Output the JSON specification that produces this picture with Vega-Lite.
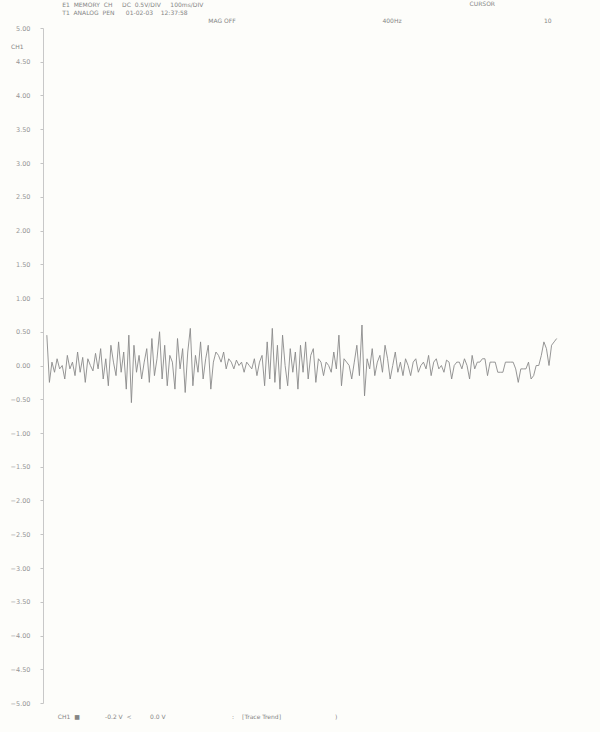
{
  "$schema": "https://vega.github.io/schema/vega-lite/v6.json",
  "autosize": {"type": "none"},
  "width": 547,
  "height": 675,
  "padding": {"left": 43, "top": 28, "right": 10, "bottom": 29},
  "background": "#fdfdfa",
  "config": {"view": {"stroke": null}, "font": "DejaVu Sans",
    "axisY": {"values": [5,4.5,4,3.5,3,2.5,2,1.5,1,0.5,0,-0.5,-1,-1.5,-2,-2.5,-3,-3.5,-4,-4.5,-5],
      "format": ".2f", "title": null, "grid": false, "labelFontSize": 6.5, "labelColor": "#969696",
      "labelOverlap": false, "labelBound": false,
      "tickColor": "#c4c4c4", "tickSize": 3, "labelPadding": 10, "domainColor": "#c8c8c8", "domainWidth": 1}},
  "datasets": {
    "trace": [
      {"i":0,"v":0.45},{"i":1,"v":-0.25},{"i":2,"v":0.05},{"i":3,"v":-0.1},{"i":4,"v":0.1},{"i":5,"v":-0.05},{"i":6,"v":0.0},{"i":7,"v":-0.2},{"i":8,"v":0.15},{"i":9,"v":-0.05},
      {"i":10,"v":0.05},{"i":11,"v":-0.15},{"i":12,"v":0.2},{"i":13,"v":-0.1},{"i":14,"v":0.12},{"i":15,"v":-0.25},{"i":16,"v":0.1},{"i":17,"v":0.0},{"i":18,"v":-0.08},{"i":19,"v":0.18},
      {"i":20,"v":-0.05},{"i":21,"v":0.25},{"i":22,"v":-0.2},{"i":23,"v":0.1},{"i":24,"v":-0.3},{"i":25,"v":0.3},{"i":26,"v":0.05},{"i":27,"v":-0.15},{"i":28,"v":0.35},{"i":29,"v":-0.1},
      {"i":30,"v":0.2},{"i":31,"v":-0.35},{"i":32,"v":0.45},{"i":33,"v":-0.55},{"i":34,"v":0.3},{"i":35,"v":-0.1},{"i":36,"v":0.15},{"i":37,"v":-0.2},{"i":38,"v":0.05},{"i":39,"v":0.25},
      {"i":40,"v":-0.25},{"i":41,"v":0.4},{"i":42,"v":-0.15},{"i":43,"v":0.1},{"i":44,"v":0.5},{"i":45,"v":-0.2},{"i":46,"v":0.3},{"i":47,"v":-0.3},{"i":48,"v":0.15},{"i":49,"v":0.05},
      {"i":50,"v":-0.35},{"i":51,"v":0.4},{"i":52,"v":-0.05},{"i":53,"v":0.25},{"i":54,"v":-0.4},{"i":55,"v":0.2},{"i":56,"v":0.55},{"i":57,"v":-0.3},{"i":58,"v":0.15},{"i":59,"v":-0.1},
      {"i":60,"v":0.35},{"i":61,"v":-0.2},{"i":62,"v":0.1},{"i":63,"v":0.3},{"i":64,"v":-0.35},{"i":65,"v":0.05},{"i":66,"v":0.2},{"i":67,"v":0.15},{"i":68,"v":0.05},{"i":69,"v":0.2},
      {"i":70,"v":-0.05},{"i":71,"v":0.1},{"i":72,"v":0.05},{"i":73,"v":-0.05},{"i":74,"v":0.08},{"i":75,"v":0.0},{"i":76,"v":0.05},{"i":77,"v":-0.1},{"i":78,"v":0.05},{"i":79,"v":0.0},
      {"i":80,"v":-0.05},{"i":81,"v":0.1},{"i":82,"v":-0.15},{"i":83,"v":0.05},{"i":84,"v":0.15},{"i":85,"v":-0.3},{"i":86,"v":0.35},{"i":87,"v":-0.2},{"i":88,"v":0.55},{"i":89,"v":-0.25},
      {"i":90,"v":0.3},{"i":91,"v":-0.35},{"i":92,"v":0.45},{"i":93,"v":0.0},{"i":94,"v":-0.3},{"i":95,"v":0.25},{"i":96,"v":-0.1},{"i":97,"v":0.2},{"i":98,"v":-0.35},{"i":99,"v":0.3},
      {"i":100,"v":-0.1},{"i":101,"v":0.35},{"i":102,"v":-0.2},{"i":103,"v":0.15},{"i":104,"v":0.25},{"i":105,"v":-0.25},{"i":106,"v":0.1},{"i":107,"v":0.05},{"i":108,"v":-0.15},{"i":109,"v":0.05},
      {"i":110,"v":0.0},{"i":111,"v":-0.1},{"i":112,"v":0.2},{"i":113,"v":-0.05},{"i":114,"v":0.45},{"i":115,"v":-0.3},{"i":116,"v":0.1},{"i":117,"v":0.05},{"i":118,"v":0.0},{"i":119,"v":-0.2},
      {"i":120,"v":0.05},{"i":121,"v":0.3},{"i":122,"v":-0.15},{"i":123,"v":0.6},{"i":124,"v":-0.45},{"i":125,"v":0.1},{"i":126,"v":-0.05},{"i":127,"v":0.25},{"i":128,"v":-0.15},{"i":129,"v":0.05},
      {"i":130,"v":0.15},{"i":131,"v":-0.1},{"i":132,"v":0.3},{"i":133,"v":0.1},{"i":134,"v":-0.2},{"i":135,"v":0.0},{"i":136,"v":0.2},{"i":137,"v":-0.1},{"i":138,"v":0.05},{"i":139,"v":-0.15},
      {"i":140,"v":0.1},{"i":141,"v":0.0},{"i":142,"v":-0.15},{"i":143,"v":0.05},{"i":144,"v":0.1},{"i":145,"v":-0.1},{"i":146,"v":0.0},{"i":147,"v":0.05},{"i":148,"v":-0.05},{"i":149,"v":0.15},
      {"i":150,"v":-0.15},{"i":151,"v":0.05},{"i":152,"v":0.1},{"i":153,"v":-0.05},{"i":154,"v":0.0},{"i":155,"v":-0.1},{"i":156,"v":0.08},{"i":157,"v":0.05},{"i":158,"v":-0.2},{"i":159,"v":0.0},
      {"i":160,"v":0.05},{"i":161,"v":0.05},{"i":162,"v":-0.05},{"i":163,"v":0.1},{"i":164,"v":0.0},{"i":165,"v":-0.2},{"i":166,"v":0.15},{"i":167,"v":-0.05},{"i":168,"v":0.05},{"i":169,"v":0.05},
      {"i":170,"v":0.1},{"i":171,"v":0.1},{"i":172,"v":-0.15},{"i":173,"v":0.05},{"i":174,"v":0.05},{"i":175,"v":0.05},{"i":176,"v":-0.1},{"i":177,"v":-0.1},{"i":178,"v":-0.1},{"i":179,"v":0.05},
      {"i":180,"v":0.05},{"i":181,"v":0.05},{"i":182,"v":0.05},{"i":183,"v":-0.05},{"i":184,"v":-0.25},{"i":185,"v":-0.05},{"i":186,"v":-0.05},{"i":187,"v":-0.05},{"i":188,"v":0.05},{"i":189,"v":-0.2},
      {"i":190,"v":-0.15},{"i":191,"v":0.0},{"i":192,"v":0.0},{"i":193,"v":0.15},{"i":194,"v":0.35},{"i":195,"v":0.25},{"i":196,"v":0.0},{"i":197,"v":0.3},{"i":198,"v":0.35},{"i":199,"v":0.4}
    ],
    "labels": [
      {"x": 6, "y": 5.335, "t": "E1\u00a0\u00a0MEMORY\u00a0\u00a0CH\u00a0\u00a0\u00a0\u00a0\u00a0DC\u00a0\u00a00.5V/DIV\u00a0\u00a0\u00a0\u00a0\u00a0100ms/DIV"},
      {"x": 6, "y": 5.225, "t": "T1\u00a0\u00a0ANALOG\u00a0\u00a0PEN\u00a0\u00a0\u00a0\u00a0\u00a0\u00a001-02-03\u00a0\u00a0\u00a0\u00a012:37:58"},
      {"x": 63, "y": 5.11, "t": "MAG OFF"},
      {"x": 131, "y": 5.11, "t": "400Hz"},
      {"x": 165, "y": 5.36, "t": "CURSOR"},
      {"x": 194, "y": 5.11, "t": "10"},
      {"x": -14, "y": 4.72, "t": "CH1"},
      {"x": 4.3, "y": -5.21, "t": "CH1\u00a0\u00a0■"},
      {"x": 22.7, "y": -5.21, "t": "-0.2 V\u00a0\u00a0<"},
      {"x": 40.3, "y": -5.21, "t": "0.0 V"},
      {"x": 72.3, "y": -5.21, "t": ":"},
      {"x": 76.2, "y": -5.21, "t": "[Trace Trend]"},
      {"x": 112.5, "y": -5.21, "t": ")"}
    ]
  },
  "layer": [
    {
      "data": {"name": "trace"},
      "mark": {"type": "line", "color": "#8a8a8a", "strokeWidth": 0.9, "interpolate": "linear"},
      "encoding": {
        "x": {"field": "i", "type": "quantitative", "scale": {"domain": [-1.5, 212], "nice": false, "zero": false}, "axis": null},
        "y": {"field": "v", "type": "quantitative", "scale": {"domain": [-5, 5], "nice": false}, "title": null}
      }
    },
    {
      "data": {"name": "labels"},
      "mark": {"type": "text", "align": "left", "baseline": "middle", "fontSize": 6, "color": "#858585", "clip": false},
      "encoding": {
        "x": {"field": "x", "type": "quantitative", "axis": null},
        "y": {"field": "y", "type": "quantitative", "title": null},
        "text": {"field": "t"}
      }
    }
  ]
}
